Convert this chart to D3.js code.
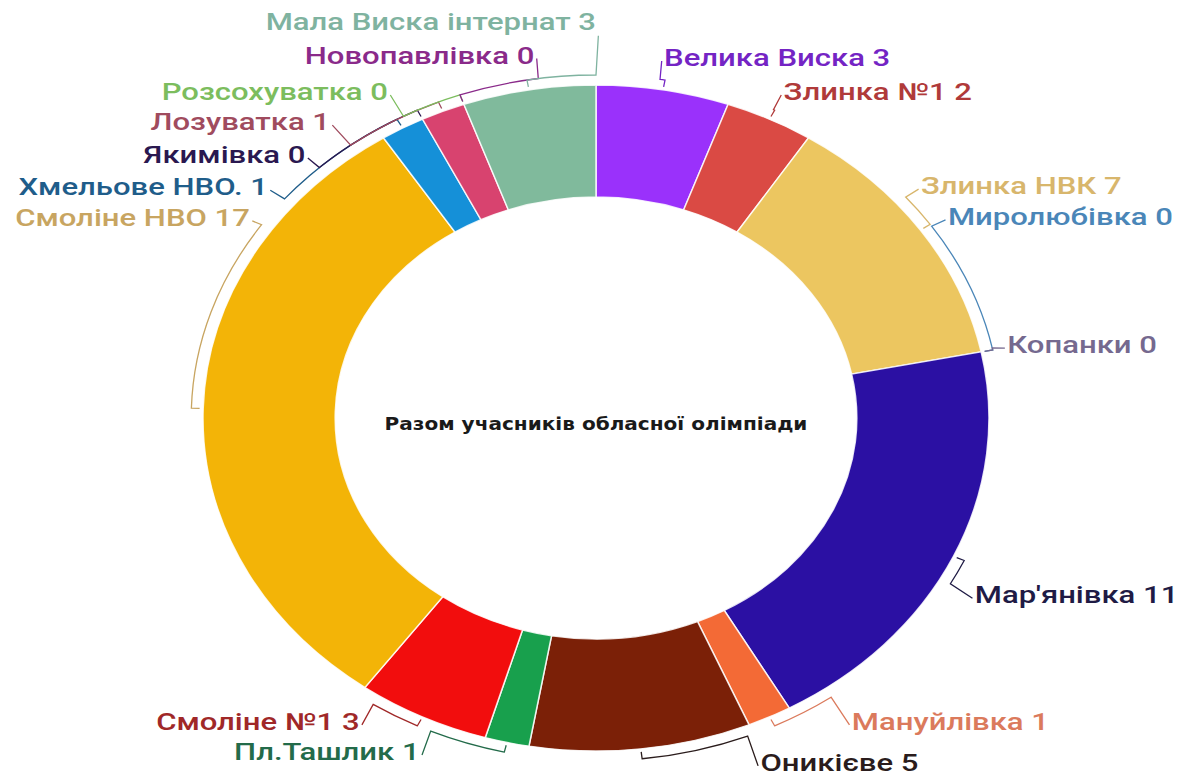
<!DOCTYPE html>
<html><head><meta charset="utf-8">
<script src="https://cdn.jsdelivr.net/npm/d3@7"></script>
<style>html,body{margin:0;padding:0;background:#fff;}svg{display:block;}</style>
</head><body>
<svg id="chart" width="1182" height="778"></svg>
<script>
// ---- data ----
const names = ["Велика Виска","Злинка №1","Злинка НВК","Миролюбівка","Копанки","Мар'янівка","Мануйлівка","Оникієве","Пл.Ташлик","Смоліне №1","Смоліне НВО","Хмельове НВО.","Якимівка","Лозуватка","Розсохуватка","Новопавлівка","Мала Виска інтернат"];
const values = [3,2,7,0,0,11,1,5,1,3,17,1,0,1,0,0,3];
const centerTitle = "Разом учасників обласної олімпіади";

// ---- styles ----
const sliceColors = ["#9a31fb","#da4a44","#ecc660","#4a8ac0","#7b6f9e","#2b10a3","#f36a36","#7b2007","#18a04d","#f20d0d","#f3b407","#1590d8","#2c1a5e","#d8436f","#78bf58","#8b2f8b","#80ba9c"];
const labelColors = ["#7424c4","#b03a3a","#d8b66c","#4a86b8","#75698f","#1f1b45","#db7a5c","#2a1c1c","#236b4a","#a02828","#c8a561","#1f5d8a","#2a1850","#a04b5e","#7cbd5e","#8a2a8a","#7fb3a0"];
// label placement (polar: degrees clockwise from top, radius as fraction of outer radius)
const labelAngles = [9.1,26.0,49.9,56.0,78.2,118.9,144.5,158.0,204.1,213.4,304.3,309.7,316.9,322.7,331.6,351.8,0.0];
const labelRadii  = [1.095,1.089,1.081,1.080,1.069,1.101,1.121,1.117,1.099,1.093,1.066,1.085,1.082,1.117,1.113,1.10,1.19];

// ---- layout ----
const cx = 596, cy = 418;
const R = 333, r0 = 221;
const stretch = 393 / 333;
const textStretch = 1.12;

const svg = d3.select("#chart");
const g = svg.append("g").attr("transform", `translate(${cx},${cy}) scale(${stretch},1)`);

const pie = d3.pie().sort(null).value(d => d.value).startAngle(0).endAngle(2 * Math.PI);
const data = names.map((n, i) => ({name: n, value: values[i], i}));
const arcs = pie(data);
const arcGen = d3.arc().innerRadius(r0).outerRadius(R);

g.selectAll("path.slice").data(arcs.filter(a => a.data.value > 0)).join("path")
  .attr("class", "slice")
  .attr("d", arcGen)
  .attr("fill", a => sliceColors[a.data.i])
  .attr("stroke", "#ffffff").attr("stroke-opacity", 0.85).attr("stroke-width", 1.3);

const pt = (ang, rad) => [rad * Math.sin(ang), -rad * Math.cos(ang)];
const Rt = R * 1.03;

arcs.forEach(a => {
  const i = a.data.i;
  const mid = (a.startAngle + a.endAngle) / 2;
  const la = labelAngles[i] * Math.PI / 180;
  const lr = labelRadii[i] * R;
  let delta = la - mid;
  while (delta > Math.PI) delta -= 2 * Math.PI;
  while (delta < -Math.PI) delta += 2 * Math.PI;
  const p = d3.path();
  const p0 = pt(mid, R + 3);
  p.moveTo(p0[0], p0[1]);
  const p1 = pt(mid, Rt);
  p.lineTo(p1[0], p1[1]);
  p.arc(0, 0, Rt, mid - Math.PI / 2, mid + delta - Math.PI / 2, delta < 0);
  const right = Math.sin(la) > 0.001;
  const lp = pt(la, lr);
  const endX = lp[0] + (right ? -2 : 2);
  const endY = i === 16 ? lp[1] + 14 : lp[1] + 3;
  p.lineTo(endX, endY);
  g.append("path").attr("d", p.toString())
    .attr("fill", "none").attr("stroke", labelColors[i]).attr("stroke-width", 1.3)
    .attr("vector-effect", "non-scaling-stroke");

  g.append("g")
    .attr("transform", `translate(${lp[0]},${lp[1]}) scale(${textStretch},1)`)
    .append("text")
    .attr("x", 0).attr("y", 0)
    .attr("dy", "0.35em")
    .attr("text-anchor", right ? "start" : "end")
    .attr("fill", labelColors[i])
    .style("font-family", "Roboto, 'Noto Sans', sans-serif")
    .style("font-size", "23.5px")
    .style("font-weight", 500)
    .text(names[i] + " " + values[i]);
});

g.append("text")
  .attr("x", 0).attr("y", 6)
  .attr("dy", "0.35em")
  .attr("text-anchor", "middle")
  .attr("fill", "#1a1a1a")
  .style("font-family", "'DejaVu Sans', Verdana, sans-serif")
  .style("font-size", "17px")
  .style("font-weight", "bold")
  .text(centerTitle);
</script>
</body></html>
